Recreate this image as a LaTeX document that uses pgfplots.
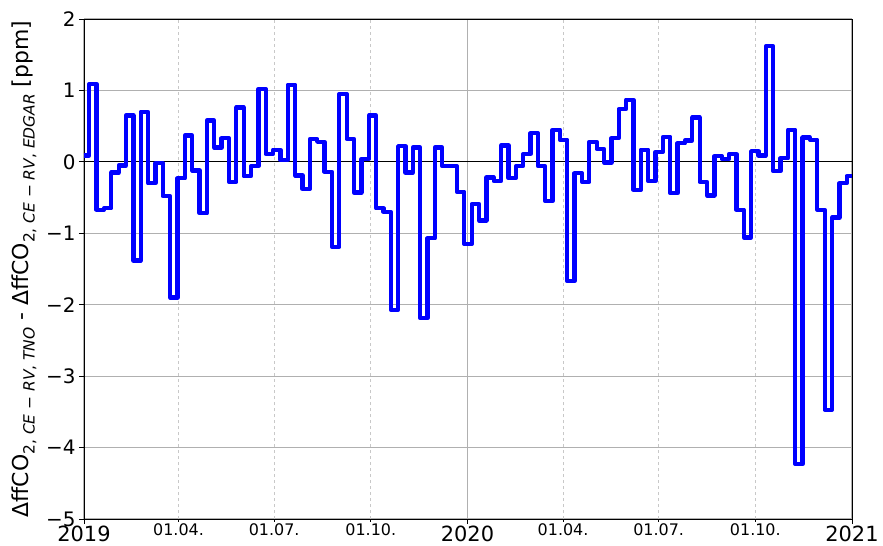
\documentclass[border=0pt]{standalone}
\usepackage{fontspec}
\setmainfont{DejaVu Sans}
\usepackage{pgfplots}
\pgfplotsset{compat=1.18}
\definecolor{gridgray}{RGB}{176,176,176}
\definecolor{minorgray}{RGB}{200,200,200}
\newcommand{\sbs}[1]{\raisebox{-0.3em}{\fontsize{15.5}{15.5}\selectfont #1}}
\begin{document}
\begin{tikzpicture}
\useasboundingbox (-84bp,-27bp) rectangle (799bp,519bp);
\begin{axis}[
  scale only axis, width=768bp, height=500bp,
  xmin=0, xmax=731, ymin=-5, ymax=2,
  axis line style={line width=0.8bp},
  tick align=outside, tick pos=left,
  major tick length=5bp,
  tick style={line width=0.8bp, black},
  xtick={0,365,731}, xticklabels={2019,2020,2021},
  ytick={-5,-4,-3,-2,-1,0,1,2}, yticklabels={−5,−4,−3,−2,−1,0,1,2},
  yticklabel style={font=\fontsize{20}{20}\selectfont},
  xticklabel style={font=\fontsize{21}{21}\selectfont, yshift=1.5bp},
  ymajorgrids, xmajorgrids,
  major grid style={gridgray, line width=1.2bp},
  extra x ticks={90,181,273,456,547,639},
  extra x tick labels={01.04.,01.07.,01.10.,01.04.,01.07.,01.10.},
  extra x tick style={major grid style={minorgray, dashed, line width=0.8bp}, major tick length=2.5bp, xticklabel style={font=\fontsize{16}{16}\selectfont, yshift=0bp}},
  every axis y label/.style={at={(axis description cs:0,0.5)}, xshift=-60bp, anchor=center, rotate=90},
  ylabel={ΔffCO\sbs{2, \textit{CE} − \textit{RV}, \textit{TNO}} - ΔffCO\sbs{2, \textit{CE} − \textit{RV}, \textit{EDGAR}} [ppm]},
  label style={font=\fontsize{22}{22}\selectfont},
]
\addplot[black, line width=1.2bp, forget plot] coordinates {(0,0) (731,0)};
\addplot[blue, line width=4.3bp, const plot, line join=round] table {
x y
0 0.09
5 1.09
12 -0.67
19 -0.65
26 -0.15
33 -0.05
40 0.65
47 -1.38
54 0.70
61 -0.30
68 -0.02
75 -0.48
82 -1.90
89 -0.23
96 0.37
103 -0.12
110 -0.72
117 0.58
124 0.20
131 0.33
138 -0.28
145 0.76
152 -0.20
159 -0.06
166 1.02
173 0.11
180 0.17
187 0.03
194 1.08
201 -0.19
208 -0.38
215 0.32
222 0.28
229 -0.14
236 -1.19
243 0.95
250 0.32
257 -0.43
264 0.04
271 0.65
278 -0.65
285 -0.70
292 -2.07
299 0.22
306 -0.15
313 0.20
320 -2.19
327 -1.07
334 0.20
341 -0.06
348 -0.06
355 -0.42
362 -1.15
369 -0.59
376 -0.82
383 -0.22
390 -0.27
397 0.23
404 -0.23
411 -0.06
418 0.11
425 0.40
432 -0.06
439 -0.55
446 0.45
453 0.31
460 -1.67
467 -0.16
474 -0.28
481 0.28
488 0.18
495 -0.01
502 0.33
509 0.74
516 0.87
523 -0.39
530 0.17
537 -0.27
544 0.14
551 0.35
558 -0.44
565 0.26
572 0.30
579 0.62
586 -0.28
593 -0.47
600 0.08
607 0.04
614 0.11
621 -0.67
628 -1.06
635 0.15
642 0.09
649 1.62
656 -0.13
663 0.05
670 0.45
677 -4.23
684 0.34
691 0.31
698 -0.67
705 -3.47
712 -0.78
719 -0.30
726 -0.20
731 -0.20
};
\end{axis}
\end{tikzpicture}
\end{document}
